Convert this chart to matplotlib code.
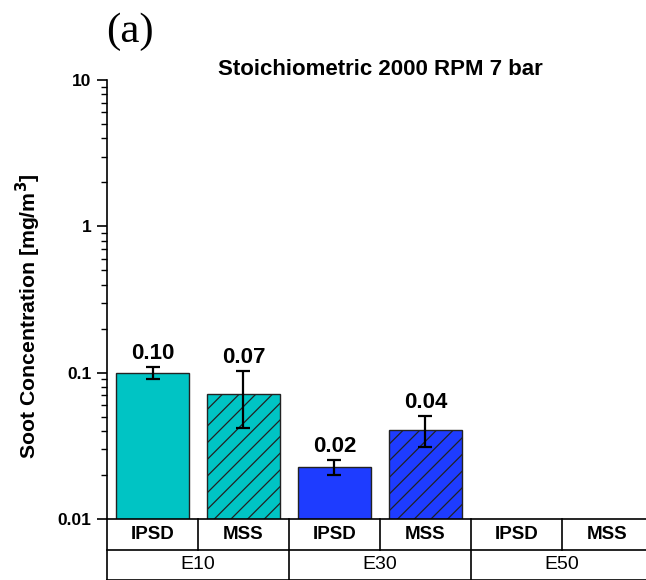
import numpy as np
import matplotlib.pyplot as plt

plt.rcParams['font.family'] = ['Liberation Sans', 'DejaVu Sans']
plt.rcParams['hatch.linewidth'] = 0.9

fuels = ['E10', 'E30', 'E50']
methods = ['IPSD', 'MSS']
# soot concentration [mg/m3], order: E10 IPSD, E10 MSS, E30 IPSD, E30 MSS, E50 IPSD, E50 MSS
values = [0.100, 0.072, 0.0228, 0.0407, np.nan, np.nan]
err_low = [0.009, 0.030, 0.0027, 0.0095, np.nan, np.nan]
err_high = [0.010, 0.031, 0.0026, 0.0100, np.nan, np.nan]
labels = ['0.10', '0.07', '0.02', '0.04', '', '']
colors = ['#00C4C4', '#00C4C4', '#1E3CFF', '#1E3CFF', '#1E3CFF', '#1E3CFF']
hatches = ['', '//', '', '//', '', '//']

fig = plt.figure(figsize=(6.46, 5.80), dpi=100)
ax = fig.add_axes([107/646, 61/580, 546/646, 439/580])

x = np.arange(len(values)) + 0.5
for xi, v, lo, hi, c, h, lab in zip(x, values, err_low, err_high, colors, hatches, labels):
    if np.isnan(v):
        continue
    ax.bar(xi, v, width=0.8, color=c, edgecolor='#222222', linewidth=1.0, hatch=h, zorder=2)
    ax.errorbar(xi, v, yerr=[[lo], [hi]], fmt='none', ecolor='black', elinewidth=1.6,
                capsize=5, capthick=1.6, zorder=3)
    ax.annotate(lab, (xi, v + hi), xytext=(0, 2), textcoords='offset points',
                ha='center', va='bottom', fontsize=16, fontweight='bold')

ax.set_yscale('log')
ax.set_ylim(0.01, 10)
ax.set_xlim(0, 6)
ax.set_yticks([0.01, 0.1, 1, 10])
ax.set_yticklabels(['0.01', '0.1', '1', '10'], fontweight='bold', fontsize=12.5)
ax.tick_params(axis='y', which='major', length=7, width=1.2, direction='out', pad=4)
ax.tick_params(axis='y', which='minor', length=4, width=1.0, direction='out')
ax.set_xticks([])
for s in ['top', 'right']:
    ax.spines[s].set_visible(False)
ax.spines['left'].set_linewidth(1.2)
ax.spines['bottom'].set_linewidth(1.2)
ax.set_ylabel('Soot Concentration [mg/m$^\\mathbf{3}$]', fontsize=15.3, fontweight='bold')
ax.yaxis.set_label_coords(-64/546, 0.462)

ax.set_title('Stoichiometric 2000 RPM 7 bar', fontsize=16, fontweight='bold', pad=2)
fig.text(130/646, 1 - 32/580, '(a)', fontsize=31, family='Liberation Serif', ha='center', va='center')

# category table under the axis
row_h = 30.5 / 439
lw = 1.2
trans = ax.get_xaxis_transform()
ax.plot([0, 0], [0, -2 * row_h], color='black', lw=lw, transform=trans, clip_on=False)
ax.plot([0, 6], [-row_h, -row_h], color='black', lw=lw, transform=trans, clip_on=False)
ax.plot([0, 6], [-2 * row_h, -2 * row_h], color='black', lw=lw, transform=trans, clip_on=False)
for i in range(1, 6):
    ax.plot([i, i], [0, -row_h if i % 2 else -2 * row_h], color='black', lw=lw,
            transform=trans, clip_on=False)
for i, xi in enumerate(x):
    ax.text(xi, -row_h / 2, methods[i % 2], transform=trans, ha='center', va='center',
            fontsize=13.5, fontweight='bold')
for j, f in enumerate(fuels):
    ax.text(2 * j + 1, -1.5 * row_h, f, transform=trans, ha='center', va='center',
            fontsize=14)

fig.savefig('out.png', dpi=100)
